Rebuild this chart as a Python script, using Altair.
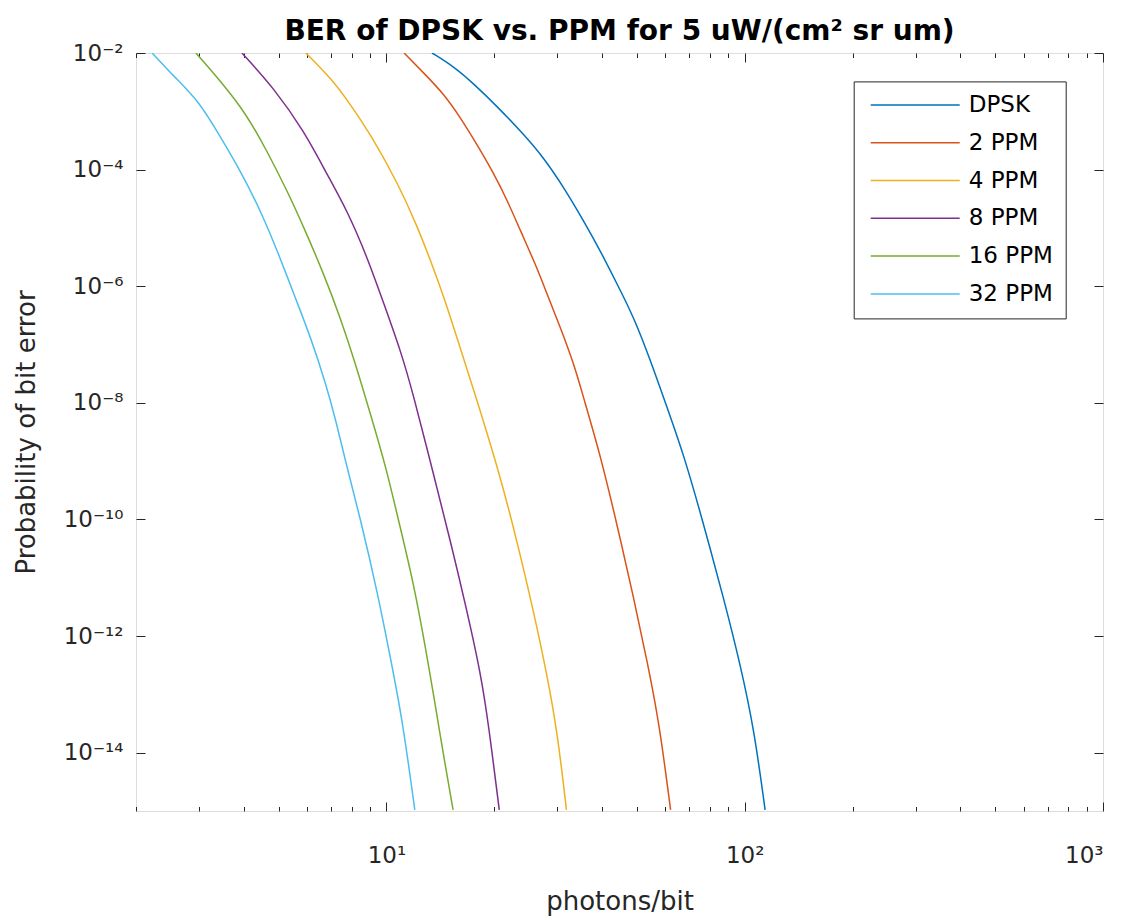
import altair as alt
import pandas as pd

# ---- data (x = photons/bit, e = log10 of BER) ----
series_names = ["DPSK", "2 PPM", "4 PPM", "8 PPM", "16 PPM", "32 PPM"]
series_colors = ["#0072BD", "#D95319", "#EDB120", "#7E2F8E", "#77AC30", "#4DBEEE"]

dpsk_x = [13.4, 15.4, 17.6, 20.4, 24.2, 27.5, 31.3, 35.6, 39.6, 44.1, 49.1, 54.7, 59.6, 67.8, 77.0, 87.5, 97.4, 106.2, 114.0]
dpsk_e = [-2.0, -2.23, -2.54, -2.92, -3.40, -3.80, -4.31, -4.89, -5.40, -5.97, -6.54, -7.29, -7.94, -8.91, -10.11, -11.37, -12.51, -13.60, -14.98]

ppm2_x = [11.2, 12.7, 14.5, 16.1, 17.9, 19.8, 21.8, 23.7, 26.1, 28.1, 30.6, 33.4, 35.6, 39.6, 44.1, 49.1, 53.5, 57.7, 62.1]
ppm2_e = [-2.0, -2.34, -2.71, -3.11, -3.57, -4.03, -4.54, -5.06, -5.63, -6.14, -6.71, -7.34, -7.94, -8.91, -10.11, -11.37, -12.45, -13.48, -14.98]

ppm4_x = [5.96, 7.0, 7.95, 9.04, 10.8, 12.2, 13.3, 14.5, 15.95, 17.57, 20.8, 23.2, 25.8, 28.1, 30.0, 31.8]
ppm4_e = [-2.0, -2.43, -2.89, -3.40, -4.25, -4.98, -5.57, -6.20, -7.0, -7.80, -9.26, -10.40, -11.60, -12.68, -13.65, -14.98]

ppm8_x = [3.95, 4.85, 5.89, 6.84, 7.78, 8.85, 9.85, 10.96, 11.82, 13.58, 15.13, 16.65, 18.32, 19.3, 20.65]
ppm8_e = [-2.0, -2.60, -3.34, -4.09, -4.71, -5.51, -6.31, -7.11, -7.80, -9.26, -10.40, -11.48, -12.63, -13.54, -14.98]

ppm16_x = [2.94, 3.45, 4.05, 4.65, 5.29, 5.95, 6.63, 7.38, 8.21, 9.14, 9.95, 10.96, 11.95, 12.88, 13.6, 14.6, 15.35]
ppm16_e = [-2.0, -2.49, -3.03, -3.69, -4.37, -5.06, -5.74, -6.48, -7.34, -8.31, -9.08, -10.17, -11.14, -12.23, -13.08, -14.23, -14.98]

ppm32_x = [2.22, 2.55, 3.0, 3.41, 3.92, 4.46, 5.01, 5.52, 6.15, 6.78, 7.25, 7.62, 8.47, 9.44, 10.28, 11.08, 12.0]
ppm32_e = [-2.0, -2.40, -2.83, -3.40, -4.03, -4.71, -5.46, -6.14, -6.88, -7.68, -8.34, -8.91, -10.0, -11.25, -12.40, -13.43, -14.98]

# axis ticks and labels
x_domain = [2, 1000]
y_domain = [1e-15, 1e-2]
x_major = [10, 100, 1000]
x_minor = [2, 3, 4, 5, 6, 7, 8, 9, 20, 30, 40, 50, 60, 70, 80, 90, 200, 300, 400, 500, 600, 700, 800, 900]
x_labels = ["10\u00b9", "10\u00b2", "10\u00b3"]
y_major = [1e-14, 1e-12, 1e-10, 1e-8, 1e-6, 1e-4, 1e-2]
y_labels = ["10\u207b\u00b9\u2074", "10\u207b\u00b9\u00b2", "10\u207b\u00b9\u2070", "10\u207b\u2078",
            "10\u207b\u2076", "10\u207b\u2074", "10\u207b\u00b2"]

title_text = "BER of DPSK vs. PPM for 5 uW/(cm\u00b2 sr um)"

rows = []
for name, xs, es in [("DPSK", dpsk_x, dpsk_e), ("2 PPM", ppm2_x, ppm2_e), ("4 PPM", ppm4_x, ppm4_e),
                     ("8 PPM", ppm8_x, ppm8_e), ("16 PPM", ppm16_x, ppm16_e), ("32 PPM", ppm32_x, ppm32_e)]:
    for xv, ev in zip(xs, es):
        rows.append({"series": name, "x": xv, "ber": 10.0 ** ev})
df = pd.DataFrame(rows)

FONT = "DejaVu Sans"
AX = "#262626"
W, H = 967, 758
MAJ, MIN = 9, 4.5

xscale = alt.Scale(type="log", domain=x_domain, nice=False)
yscale = alt.Scale(type="log", domain=y_domain, nice=False)

x_label_expr = "[" + ",".join("'%s'" % s for s in x_labels) + "][round(log(datum.value)/LN10)-1]"
y_label_expr = "[" + ",".join("'%s'" % s for s in y_labels) + "][(round(log(datum.value)/LN10)+14)/2]"

main = alt.Chart(df).mark_line(strokeWidth=1.5, clip=True, interpolate="basis").encode(
    x=alt.X("x:Q", scale=xscale,
            axis=alt.Axis(orient="bottom", values=x_major, labelExpr=x_label_expr, ticks=False,
                          domain=False, grid=False, labelPadding=33, labelFontSize=23,
                          labelColor=AX, labelFont=FONT, title="photons/bit", titleFontSize=26,
                          titleFont=FONT, titleColor=AX, titleFontWeight="normal", titlePadding=21)),
    y=alt.Y("ber:Q", scale=yscale,
            axis=alt.Axis(orient="left", values=y_major, labelExpr=y_label_expr, ticks=False,
                          domain=False, grid=False, labelPadding=13, labelFontSize=23,
                          labelColor=AX, labelFont=FONT, title="Probability of bit error",
                          titleFontSize=26, titleFont=FONT, titleColor=AX,
                          titleFontWeight="normal", titlePadding=24)),
    color=alt.Color("series:N", scale=alt.Scale(domain=series_names, range=series_colors),
                    legend=alt.Legend(orient="none", legendX=717.7, legendY=28.4, title=None,
                                      symbolType="M-4.45,0L4.45,0", symbolSize=400,
                                      symbolStrokeWidth=1.5, symbolOffset=38,
                                      labelOffset=42, labelFontSize=23, labelFont=FONT,
                                      labelColor="#000000", labelLimit=300, padding=12,
                                      rowPadding=13.8, strokeColor=AX, fillColor="white")),
)


def tick_axis(orient, values, size):
    return alt.Axis(orient=orient, values=values, tickSize=size, offset=-size, labels=False,
                    domain=False, grid=False, title=None, tickColor=AX, tickWidth=1,
                    minExtent=0)


def tick_layer(xaxis, yaxis):
    return alt.Chart(df).mark_line(opacity=0).encode(
        x=alt.X("x:Q", scale=xscale, axis=xaxis),
        y=alt.Y("ber:Q", scale=yscale, axis=yaxis),
        detail="series:N",
    )


t1 = tick_layer(tick_axis("bottom", x_major, MAJ), tick_axis("left", y_major, MAJ))
t2 = tick_layer(tick_axis("bottom", x_minor, MIN), tick_axis("right", y_major, MAJ))
t3 = tick_layer(tick_axis("top", x_major, MAJ), None)
t4 = tick_layer(tick_axis("top", x_minor, MIN), None)

chart = alt.layer(main, t1, t2, t3, t4).resolve_axis(
    x="independent", y="independent"
).properties(
    width=W, height=H,
    title=alt.TitleParams(title_text, fontSize=28, fontWeight="bold", font=FONT, color="#000000",
                          anchor="middle", frame="group", offset=-4),
    padding={"left": 5, "top": 10, "right": 5, "bottom": 5},
).configure_view(stroke=AX, strokeWidth=1).configure(font=FONT)

chart.save("out.html", embed_options={"renderer": "svg", "actions": False})
